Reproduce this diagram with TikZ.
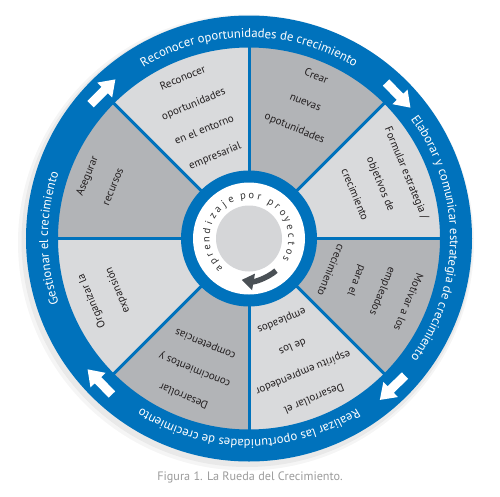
\documentclass[tikz,border=0pt]{standalone}
\usepackage{fontspec}
\setmainfont{PT Sans}
\usetikzlibrary{decorations.text,arrows.meta}
\definecolor{wblue}{HTML}{0072BC}
\definecolor{segdark}{HTML}{B2B4B7}
\definecolor{seglight}{HTML}{D9DADC}
\definecolor{hubgrey}{HTML}{D5D6D8}
\definecolor{txt}{HTML}{231F20}
\definecolor{hubtxt}{HTML}{333333}
\definecolor{arrowgrey}{HTML}{4A5055}
\definecolor{capgrey}{HTML}{9B9B9B}
\newcommand\bandfont{\fontsize{12.7}{14}\selectfont}
\begin{document}
\begin{tikzpicture}[x=1pt,y=1pt,
  segtext/.style={font=\fontsize{11}{28}\selectfont, text=txt, align=center, inner sep=0pt},
  hubchar/.style={font=\fontsize{10.5}{12}\selectfont, text=hubtxt, inner sep=0pt, anchor=base},
  bandtext/.style={decorate, decoration={text along path, text align=center, text color=white, text={|\bandfont|#1}}},
  ringarrow/.style={fill=white}]
\useasboundingbox (-249,-257.5) rectangle (251,238.5);
% soft shadow
\fill[black, opacity=0.04] (-3,-4) circle[radius=228];
\fill[black, opacity=0.05] (-2,-3) circle[radius=225.5];
% segments
\foreach \a/\c in {0/seglight,45/segdark,90/seglight,135/segdark,180/seglight,225/segdark,270/seglight,315/segdark}
  \fill[\c] (0,0) -- (\a:200) arc[start angle=\a, end angle=\a+45, radius=200] -- cycle;
% dividers
\foreach \a in {0,45,...,315}
  \draw[wblue, line width=3] (\a:60) -- (\a:195);
% outer band
\fill[wblue, even odd rule] (0,0) circle[radius=223] (0,0) circle[radius=191];
% hub
\fill[wblue] (0,0) circle[radius=68];
\fill[white] (0,0) circle[radius=56];
\fill[hubgrey] (0,0) circle[radius=33];
% band texts
\path[bandtext={Reconocer oportunidades de crecimiento}] (150:201) arc[start angle=150, end angle=30, radius=201];
\path[bandtext={Elaborar y comunicar estrategia de crecimiento}] (60:201) arc[start angle=60, end angle=-60, radius=201];
\path[bandtext={Realizar las oportunidades de crecimiento}] (-30:201) arc[start angle=-30, end angle=-150, radius=201];
\path[bandtext={Gestionar el crecimiento}] (240:201) arc[start angle=240, end angle=120, radius=201];
% band arrows
\foreach \a in {44,135,224,314}{
  \begin{scope}[shift={(\a:207)}, rotate={\a-90}]
    \fill[ringarrow] (-17,-4.5) -- (3,-4.5) -- (3,-10.5) -- (18,0) -- (3,10.5) -- (3,4.5) -- (-17,4.5) -- cycle;
  \end{scope}
}
% segment texts
\node[segtext, rotate=-22.5] (s1) at (67.5:147) {Crear\\nuevas\\opotunidades};
\node[segtext, rotate=22.5] (s2) at (112.4:131) {Reconocer\\oportunidades\\en el entorno\\empresarial};
\node[segtext, rotate=67.5] (s3) at (159:160) {Asegurar\\recursos};
\node[segtext, rotate=112.5] (s4) at (201.6:155) {Organizar la\\expansión};
\node[segtext, rotate=157.5] (s5) at (247.5:142) {Desarrollar\\conocimientos y\\competencias};
\node[segtext, rotate=202.5] (s6) at (292:130) {Desarrollar el\\espíritu emprendedor\\de los\\empleados};
\node[segtext, rotate=247.5] (s7) at (338.5:130) {Motivar a los\\empleados\\para el\\crecimiento};
\node[segtext, rotate=-67.5] (s8) at (22.5:143) {Formular estrategia /\\objetivos de\\crecimiento};
% hub text
\foreach \ang/\ch [count=\i] in {225/a,214/p,203/r,192/e,181/n,170/d,159/i,148/z,137/a,126/j,115/e,98/p,87/o,76/r,59/p,48/r,37/o,26/y,15/e,4/c,-7/t,-18/o,-29/s}
  \node[hubchar, rotate={\ang-90}] (h\i) at (\ang:39.5) {\ch};
% hub arrow
\draw[arrowgrey, line width=5.5, -{Triangle[length=12pt, width=16pt]}] (-50:42) arc[start angle=-50, end angle=-100, radius=42];
% caption
\node[font=\fontsize{12.2}{14}\selectfont, text=capgrey] (cap) at (1,-238.5) {Figura 1. La Rueda del Crecimiento.};
\end{tikzpicture}
\end{document}
